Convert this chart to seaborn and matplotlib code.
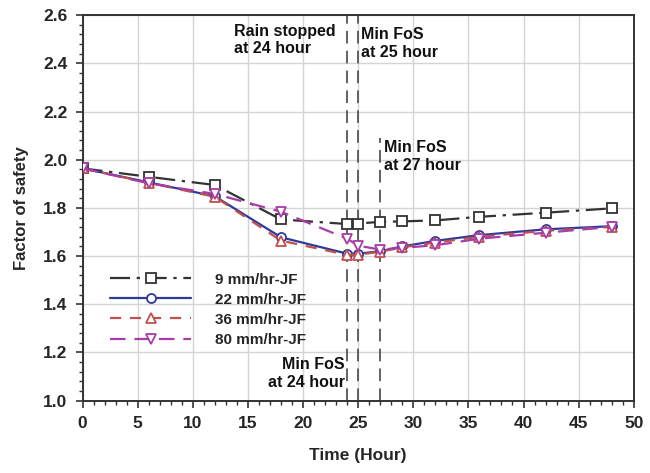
import matplotlib
matplotlib.use("Agg")
import matplotlib.pyplot as plt
from matplotlib.ticker import MultipleLocator
import seaborn as sns
import pandas as pd

# ---- data ----
hours = [0, 6, 12, 18, 24, 25, 27, 29, 32, 36, 42, 48]
fos_9 = [1.964, 1.929, 1.895, 1.752, 1.733, 1.735, 1.742, 1.744, 1.748, 1.763, 1.780, 1.798]
fos_22 = [1.964, 1.906, 1.848, 1.678, 1.610, 1.610, 1.620, 1.640, 1.663, 1.687, 1.711, 1.724]
fos_36 = [1.964, 1.904, 1.846, 1.664, 1.605, 1.606, 1.618, 1.636, 1.656, 1.680, 1.705, 1.721]
fos_80 = [1.964, 1.902, 1.858, 1.784, 1.672, 1.643, 1.627, 1.634, 1.645, 1.672, 1.697, 1.721]
series_labels = ["9 mm/hr-JF", "22 mm/hr-JF", "36 mm/hr-JF", "80 mm/hr-JF"]
event_hours = [24, 25, 27]

sns.set_theme(style="white")
plt.rcParams["font.family"] = ["Liberation Sans", "DejaVu Sans"]
plt.rcParams["font.weight"] = "bold"

fig = plt.figure(figsize=(6.5, 4.73), dpi=100)
ax = fig.add_axes([0.127, 0.153, 0.848, 0.815])

styles = [
    dict(color="#333333", marker="s", linestyle=(0, (9, 3, 1.5, 3))),
    dict(color="#2E3A9A", marker="o", linestyle="-"),
    dict(color="#C0504D", marker="^", linestyle=(0, (5, 4))),
    dict(color="#A83CA8", marker="v", linestyle=(0, (7, 4))),
]
all_vals = [fos_9, fos_22, fos_36, fos_80]

for vals, lab, st in zip(all_vals, series_labels, styles):
    df = pd.DataFrame({"Time": hours, "FoS": vals})
    sns.lineplot(data=df, x="Time", y="FoS", ax=ax, label=lab,
                 color=st["color"], marker=st["marker"], linestyle=st["linestyle"],
                 linewidth=1.6, markersize=6.5, markerfacecolor="white",
                 markeredgecolor=st["color"], markeredgewidth=1.3, zorder=3)

# event lines
ax.axvline(event_hours[0], color="#555555", linestyle=(0, (7, 4)), linewidth=1.3, zorder=2)
ax.axvline(event_hours[1], color="#555555", linestyle=(0, (7, 4)), linewidth=1.3, zorder=2)
ax.axvline(event_hours[2], ymin=0, ymax=(2.09 - 1.0) / 1.6, color="#555555",
           linestyle=(0, (7, 4)), linewidth=1.3, zorder=2)

ax.set_xlim(0, 50)
ax.set_ylim(1.0, 2.6)
ax.xaxis.set_major_locator(MultipleLocator(5))
ax.xaxis.set_minor_locator(MultipleLocator(1))
ax.yaxis.set_major_locator(MultipleLocator(0.2))
ax.yaxis.set_minor_locator(MultipleLocator(0.04))
ax.yaxis.set_major_formatter(plt.FormatStrFormatter("%.1f"))
ax.grid(True, which="major", color="#D4D4D4", linewidth=1.0)
ax.set_axisbelow(True)
ax.tick_params(axis="both", which="major", direction="out", length=5, width=1.2,
               labelsize=12.5, color="#333333", pad=6, bottom=True, left=True)
ax.tick_params(axis="both", which="minor", direction="out", length=3, width=1.0,
               color="#333333", bottom=True, left=True)
for lbl in ax.get_xticklabels() + ax.get_yticklabels():
    lbl.set_fontweight("bold")
for sp in ax.spines.values():
    sp.set_color("#333333")
    sp.set_linewidth(1.4)

ax.set_xlabel("Time (Hour)", fontsize=12.5, fontweight="bold", labelpad=12)
ax.set_ylabel("Factor of safety", fontsize=12, fontweight="bold", labelpad=10)

tkw = dict(fontsize=11.5, fontweight="bold", color="#111111", linespacing=1.2, va="top")
ax.text(13.7, 2.565, "Rain stopped\nat 24 hour", ha="left", **tkw)
ax.text(25.3, 2.55, "Min FoS\nat 25 hour", ha="left", **tkw)
ax.text(27.3, 2.08, "Min FoS\nat 27 hour", ha="left", **tkw)
ax.text(23.8, 1.18, "Min FoS\nat 24 hour", ha="right", **tkw)

leg = ax.legend(loc="upper left", bbox_to_anchor=(0.025, 0.368), frameon=False,
                handlelength=5.3, handletextpad=1.6, labelspacing=0.4,
                prop=dict(weight="bold", size=11))

fig.savefig("out.png", dpi=100)
